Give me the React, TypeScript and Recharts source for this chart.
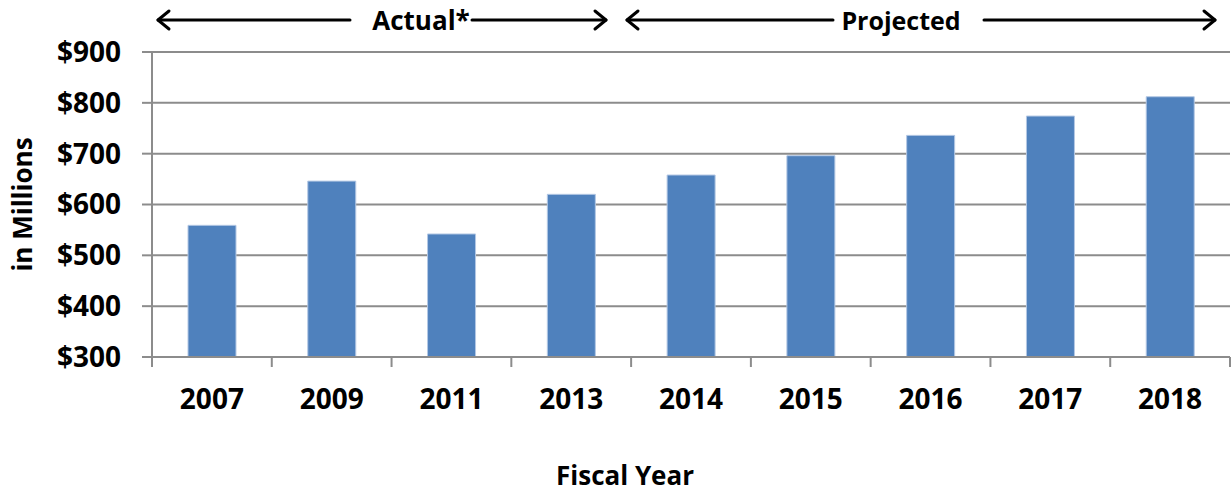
import React from 'react';
import { BarChart, Bar, XAxis, YAxis, CartesianGrid, Label } from 'recharts';

const years = ['2007', '2009', '2011', '2013', '2014', '2015', '2016', '2017', '2018'];
const amounts = [559, 646, 542, 620, 658, 696, 736, 774, 812];
const yTicks = [300, 400, 500, 600, 700, 800, 900];
const periodLabels = ['Actual*', 'Projected'];

const data = years.map((y, i) => ({ year: y, value: amounts[i] }));

const W = 1231;
const H = 494;
const PLOT_LEFT = 152;
const PLOT_RIGHT = 1230;
const BAND = (PLOT_RIGHT - PLOT_LEFT) / years.length;
const FONT = "'Open Sans', sans-serif";
const GRAY = '#8c8c8c';

const XTick = (props: any) => {
  const { x, y, payload, index } = props;
  return (
    <g>
      <line x1={x - BAND / 2} x2={x - BAND / 2} y1={y} y2={y + 10} stroke={GRAY} strokeWidth={2} />
      {index === years.length - 1 && (
        <line x1={x + BAND / 2} x2={x + BAND / 2} y1={y} y2={y + 10} stroke={GRAY} strokeWidth={2} />
      )}
      <text x={x} y={y + 52} textAnchor="middle" fontFamily={FONT} fontWeight={700} fontSize={28} fill="#000">
        {payload.value}
      </text>
    </g>
  );
};

const Arrow = ({ x1, x2, y, dir }: { x1: number; x2: number; y: number; dir: 'left' | 'right' }) => {
  const tip = dir === 'left' ? x1 : x2;
  const s = dir === 'left' ? 1 : -1;
  return (
    <g stroke="#000" strokeWidth={3} fill="none" strokeLinecap="round" strokeLinejoin="round">
      <line x1={x1} x2={x2} y1={y} y2={y} />
      <polyline points={`${tip + s * 11},${y - 9} ${tip},${y} ${tip + s * 11},${y + 9}`} />
    </g>
  );
};

const Annotations = () => (
  <svg width={W} height={45} style={{ position: 'absolute', left: 0, top: 0 }}>
    <Arrow x1={158} x2={350} y={20} dir="left" />
    <text x={421} y={30} textAnchor="middle" fontFamily={FONT} fontWeight={700} fontSize={26} fill="#000">
      {periodLabels[0]}
    </text>
    <Arrow x1={472} x2={606} y={20} dir="right" />
    <Arrow x1={627} x2={833} y={20} dir="left" />
    <text x={901} y={30} textAnchor="middle" fontFamily={FONT} fontWeight={700} fontSize={25} fill="#000">
      {periodLabels[1]}
    </text>
    <Arrow x1={984} x2={1215} y={20} dir="right" />
  </svg>
);

const FiscalLabel = () => (
  <text x={625} y={485} textAnchor="middle" fontFamily={FONT} fontWeight={700} fontSize={26} fill="#000">
    Fiscal Year
  </text>
);

export default function App() {
  return (
    <div style={{ position: 'absolute', left: 0, top: 0, width: W, height: H, background: '#fff' }}>
      <BarChart width={W} height={H} data={data} margin={{ top: 52, right: 1, bottom: 0, left: 0 }}>
        <CartesianGrid vertical={false} stroke={GRAY} strokeWidth={2} />
        <XAxis
          dataKey="year"
          height={137}
          tickSize={0}
          tickMargin={0}
          tick={<XTick />}
          axisLine={{ stroke: GRAY, strokeWidth: 2 }}
          tickLine={false}
          interval={0}
        >
          <Label value="Fiscal Year" content={<FiscalLabel />} />
        </XAxis>
        <YAxis
          width={152}
          domain={[300, 900]}
          ticks={yTicks}
          interval={0}
          tickFormatter={(v: number) => `$${v}`}
          tickSize={10}
          tickMargin={21}
          tickLine={{ stroke: GRAY, strokeWidth: 2 }}
          axisLine={{ stroke: GRAY, strokeWidth: 2 }}
          tick={{ fontFamily: FONT, fontWeight: 700, fontSize: 28, fill: '#000' }}
        >
          <Label
            value="in Millions"
            angle={-90}
            position="insideLeft"
            offset={23}
            style={{ fontFamily: FONT, fontWeight: 700, fontSize: 26, fill: '#000', textAnchor: 'middle' }}
          />
        </YAxis>
        <Bar dataKey="value" fill="#4F81BD" stroke="#b4c8e4" strokeWidth={1} barSize={48} isAnimationActive={false} />
      </BarChart>
      <Annotations />
    </div>
  );
}
